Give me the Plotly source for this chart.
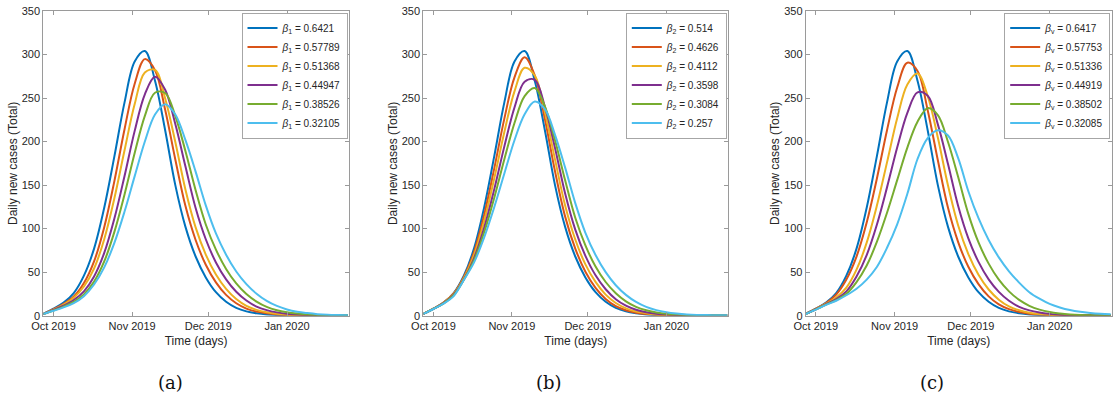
import plotly.graph_objects as go

# sample dates (every 4 days, Sep 27 2019 .. Jan 25 2020)
dates = ["2019-09-27", "2019-10-01", "2019-10-05", "2019-10-09", "2019-10-13", "2019-10-17",
         "2019-10-21", "2019-10-25", "2019-10-29", "2019-11-02", "2019-11-06", "2019-11-10",
         "2019-11-14", "2019-11-18", "2019-11-22", "2019-11-26", "2019-11-30", "2019-12-04",
         "2019-12-08", "2019-12-12", "2019-12-16", "2019-12-20", "2019-12-24", "2019-12-28",
         "2020-01-01", "2020-01-05", "2020-01-09", "2020-01-13", "2020-01-17", "2020-01-21",
         "2020-01-25"]

base = [2, 8, 15, 26, 46, 77, 124, 183, 245, 292, 304, 270, 213, 150, 102, 68, 44, 27, 16, 9,
        5, 2.8, 1.5, 0.9, 0.6, 0.5, 0.45, 0.4, 0.35, 0.3, 0.25]

# panel (a): beta_1
a_orange = [2, 7.4, 13.6, 22, 37.5, 62.4, 101.7, 154.6, 214.2, 266.5, 294.7, 282, 236.6, 179.5, 125.9, 87,
            58.5, 38.3, 23.9, 14.3, 8.2, 4.7, 2.7, 1.5, 0.9, 0.6, 0.5, 0.45, 0.4, 0.35, 0.3]
a_yellow = [2, 7, 12.6, 20.5, 33.5, 54.2, 87.9, 134.9, 190, 243.1, 279.3, 282.4, 249.5, 199.5, 144.7, 101.5,
            70.2, 47.3, 30.8, 19.1, 11.3, 6.7, 3.9, 2.2, 1.2, 0.8, 0.56, 0.47, 0.42, 0.38, 0.33]
a_purple = [2, 6.5, 11.5, 18, 28, 45.1, 72.1, 111.6, 160.5, 212.3, 254.3, 274.5, 259.5, 220.1, 171.3, 123.7,
            87.8, 61.2, 41.7, 27.5, 17.4, 10.5, 6.4, 3.8, 2.2, 1.3, 0.8, 0.6, 0.45, 0.42, 0.37]
a_green = [2, 6, 10.5, 16, 24.5, 39.1, 62.3, 96.3, 139.3, 186.8, 229.5, 256.1, 255.8, 229.3, 189, 144.2,
           104.8, 75.9, 53.7, 37.1, 24.9, 16.2, 10.1, 6.3, 3.9, 2.4, 1.4, 0.9, 0.64, 0.48, 0.42]
a_cyan = [2, 5.6, 9.5, 14.4, 22.4, 35.8, 55.5, 83.6, 119.6, 160.3, 200.1, 231.1, 243, 231.1, 201.6, 165.5,
          126.7, 94.5, 70.1, 50.8, 36.3, 25.3, 17, 11.2, 7.2, 4.6, 3.0, 1.8, 1.1, 0.76, 0.55]

# panel (b): beta_2
b_orange = [2, 8, 15, 25.5, 44.5, 72.9, 115.3, 168.9, 226.4, 273.8, 296.8, 276, 225.9, 165.9, 113.8, 77.1,
            50.5, 32, 19.3, 11, 6.3, 3.5, 1.9, 1.1, 0.7, 0.53, 0.47, 0.42, 0.37, 0.32, 0.28]
b_yellow = [2, 8, 14.8, 25, 43, 69.5, 108.4, 157.5, 211, 257.7, 284.8, 275.9, 234, 179.6, 126.6, 87.5,
            59, 38.8, 24.2, 14.6, 8.5, 4.8, 2.8, 1.5, 0.9, 0.63, 0.5, 0.45, 0.4, 0.35, 0.3]
b_purple = [2, 7.9, 14.5, 24.3, 41.5, 65.7, 100.8, 145.1, 194.5, 239.2, 268.8, 271, 240.1, 192.7, 140.4, 98.9,
            68.8, 46.4, 30.4, 19, 11.5, 6.8, 4, 2.3, 1.3, 0.8, 0.56, 0.46, 0.41, 0.36, 0.32]
b_green = [2, 7.8, 14.2, 23.5, 41.3, 63.5, 95.5, 135.3, 179.6, 221.3, 252.3, 261.6, 240.3, 201.5, 155.5, 112.5,
           80.7, 56.5, 38.7, 25.8, 16.5, 10.1, 6.2, 3.8, 2.2, 1.3, 0.8, 0.6, 0.47, 0.42, 0.37]
b_cyan = [2, 7.7, 13.8, 22.5, 41.1, 61, 89.6, 124.5, 163.3, 201.5, 231.3, 246, 237.2, 207.8, 170.1, 129.3,
          95.2, 69.7, 50, 35, 23.9, 15.8, 10.1, 6.4, 4, 2.5, 1.5, 0.93, 0.67, 0.48, 0.42]

# panel (c): beta_v
c_orange = [2, 8.2, 14.5, 24.3, 41.6, 67.9, 107, 157.4, 213.1, 262.1, 290.6, 281, 236.1, 178.5, 123.9, 84.6,
            56.2, 36.3, 22.2, 13, 7.5, 4.2, 2.3, 1.25, 0.8, 0.56, 0.48, 0.43, 0.38, 0.33, 0.29]
c_yellow = [2, 7.6, 13.8, 21, 32.3, 52.9, 83.9, 126.2, 176.1, 226.7, 265.5, 278.1, 252.4, 204.6, 149.5, 103.6,
            70.8, 47, 30.1, 18.4, 10.7, 6.2, 3.5, 1.9, 1.1, 0.73, 0.52, 0.46, 0.41, 0.36, 0.32]
c_purple = [2, 7.4, 13.3, 19, 28, 45.1, 69.7, 104.5, 147.4, 193.1, 232.9, 256.6, 252.6, 219.8, 174.2, 126,
            88.8, 61.8, 41.8, 27.4, 17.1, 10.2, 6.1, 3.6, 2.1, 1.2, 0.75, 0.51, 0.47, 0.41, 0.36]
c_green = [2, 7.2, 12.8, 18, 25.1, 38.6, 57.6, 84.7, 118.2, 155.7, 193.1, 222.7, 238.4, 230.5, 199.5, 159.3,
           117, 84.2, 59.8, 41.4, 27.9, 18.1, 11.4, 7, 4.2, 2.6, 1.5, 0.86, 0.6, 0.46, 0.39]
c_cyan = [2, 7, 12.4, 17.2, 23.5, 31, 41.5, 56, 78, 105, 140, 180, 204, 213, 207, 181,
          143, 112, 87, 67, 51, 38, 27, 19.5, 13.5, 9.5, 6.5, 4.5, 3.2, 2.3, 1.7]

a_labels = ["0.6421", "0.57789", "0.51368", "0.44947", "0.38526", "0.32105"]
b_labels = ["0.514", "0.4626", "0.4112", "0.3598", "0.3084", "0.257"]
c_labels = ["0.6417", "0.57753", "0.51336", "0.44919", "0.38502", "0.32085"]

tick_vals = ["2019-10-01", "2019-11-01", "2019-12-01", "2020-01-01"]
tick_text = ["Oct 2019", "Nov 2019", "Dec 2019", "Jan 2020"]
captions = ["(a)", "(b)", "(c)"]

colors = ["#0072BD", "#D95319", "#EDB120", "#7E2F8E", "#77AC30", "#4DBEEE"]

panels = [
    (["1"] * 6, a_labels, [base, a_orange, a_yellow, a_purple, a_green, a_cyan]),
    (["2"] * 6, b_labels, [base, b_orange, b_yellow, b_purple, b_green, b_cyan]),
    (["v"] * 6, c_labels, [base, c_orange, c_yellow, c_purple, c_green, c_cyan]),
]

W, H = 1113, 399
x_px = [(43.3, 349.0), (423.3, 728.3), (805.7, 1111.7)]
y_top, y_bot = 11.0, 315.7
cap_x = [170, 549, 932]

fig = go.Figure()
FONT = "Liberation Sans, Arial, sans-serif"
TXT = "#262626"
LINE = "#9a9a9a"

for i, (subs, labels, series) in enumerate(panels):
    n = "" if i == 0 else str(i + 1)
    leg = "legend" if i == 0 else "legend" + str(i + 1)
    for k, ys in enumerate(series):
        fig.add_trace(go.Scatter(
            x=dates, y=ys, mode="lines", line=dict(color=colors[k], width=2, shape="spline", smoothing=1.0),
            name="<i>β</i><sub>%s</sub> = %s" % (subs[k], labels[k]),
            xaxis="x" + n, yaxis="y" + n, legend=leg, hoverinfo="skip"))
    x0, x1 = x_px[i]
    dom_x = [x0 / W, x1 / W]
    dom_y = [1 - y_bot / H, 1 - y_top / H]
    fig.update_layout(**{
        "xaxis" + n: dict(domain=dom_x, anchor="y" + n, type="date", automargin=False,
                          range=["2019-09-27", "2020-01-25 10:00"],
                          tickvals=tick_vals, ticktext=tick_text,
                          ticks="inside", ticklen=4, tickcolor=LINE, showline=True, linecolor=LINE,
                          linewidth=1, mirror="allticks", showgrid=False, zeroline=False,
                          tickfont=dict(family=FONT, size=11, color=TXT),
                          title=dict(text="Time (days)", font=dict(family=FONT, size=12, color=TXT), standoff=5)),
        "yaxis" + n: dict(domain=dom_y, anchor="x" + n, range=[0, 350], dtick=50, automargin=False,
                          ticks="inside", ticklen=4, tickcolor=LINE, showline=True, linecolor=LINE,
                          linewidth=1, mirror="allticks", showgrid=False, zeroline=False,
                          tickfont=dict(family=FONT, size=11, color=TXT),
                          title=dict(text="Daily new cases (Total)", font=dict(family=FONT, size=12, color=TXT),
                                     standoff=1)),
        leg: dict(x=(x1 - 1.5) / W, xanchor="right", y=1 - 12.5 / H, yanchor="top",
                  bgcolor="white", bordercolor="#a6a6a6", borderwidth=1,
                  font=dict(family=FONT, size=10, color=TXT), tracegroupgap=0, itemwidth=30),
    })
    fig.add_annotation(text=captions[i], x=cap_x[i] / W, y=1 - 382 / H, xref="paper", yref="paper",
                       showarrow=False, xanchor="center", yanchor="middle",
                       font=dict(family="DejaVu Serif, serif", size=18, color="#111111"))

fig.update_layout(width=W, height=H, margin=dict(l=0, r=0, t=0, b=0, autoexpand=False),
                  paper_bgcolor="white", plot_bgcolor="white", showlegend=True)

fig.write_html("out.html")
